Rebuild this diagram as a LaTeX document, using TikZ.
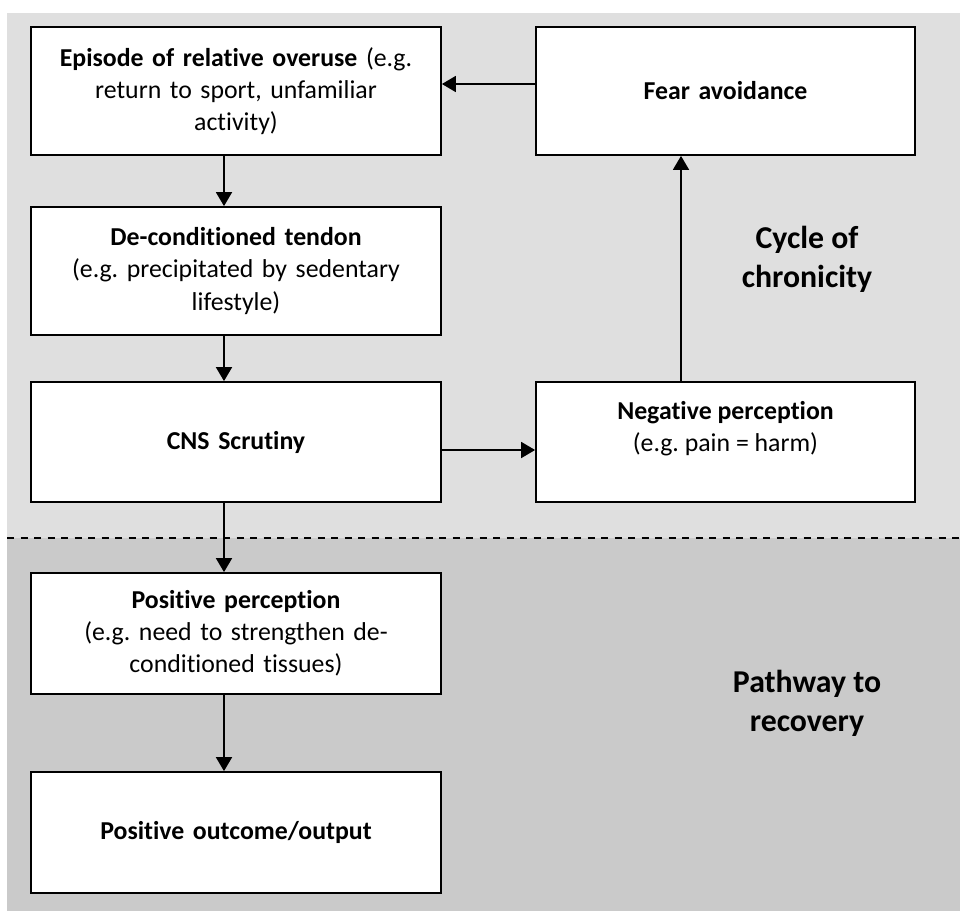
\documentclass[tikz,border=0pt]{standalone}
\usepackage{fontspec}
\setmainfont{Carlito}[Ligatures=NoCommon]
\usetikzlibrary{arrows.meta,calc}
\definecolor{lightbg}{RGB}{223,223,223}
\definecolor{darkbg}{RGB}{202,202,202}
\frenchspacing
\begin{document}
\begin{tikzpicture}[x=1pt,y=-1pt]
\tikzset{
  bx/.style={draw=black, line width=1.8pt, fill=white, inner sep=0pt, align=center,
             font=\fontsize{25.8}{32.2}\selectfont},
  btxt/.style={inner sep=0pt, align=center, font=\fontsize{25.8}{32.2}\selectfont},
  arr/.style={line width=1.8pt, -{Triangle[width=16pt,length=14pt]}},
  lbl/.style={inner sep=0pt, align=center, font=\bfseries\fontsize{31.8}{38.7}\selectfont}
}
\useasboundingbox (0,0) rectangle (960,911);
\fill[lightbg] (7,13) rectangle (960,538);
\fill[darkbg] (7,538) rectangle (960,911);
\draw[line width=1.4pt, dash pattern=on 7pt off 6.5pt] (7,538) -- (960,538);

\node[bx, minimum width=410pt, minimum height=128pt, text width=404pt] (ep) at (236,91)
  {\textbf{Episode of relative overuse} (e.g.\\ return to sport, unfamiliar\\ activity)};
\node[bx, minimum width=410pt, minimum height=128pt, text width=404pt] (de) at (236,271)
  {\textbf{De-conditioned tendon}\\ (e.g. precipitated by sedentary\\ lifestyle)};
\node[bx, minimum width=410pt, minimum height=120pt, text width=404pt] (cns) at (236,442)
  {\textbf{CNS Scrutiny}};
\node[bx, minimum width=410pt, minimum height=121pt, text width=404pt] (pos) at (236,633.5)
  {\textbf{Positive perception}\\ (e.g. need to strengthen de-\\ conditioned tissues)};
\node[bx, minimum width=410pt, minimum height=121pt, text width=404pt] (out) at (236,832.5)
  {\textbf{Positive outcome/output}};
\node[bx, minimum width=379pt, minimum height=128pt, text width=373pt] (fear) at (725.5,91)
  {\textbf{Fear avoidance}};
\node[bx, minimum width=379pt, minimum height=120pt, text width=373pt] (neg) at (725.5,442) {};
\node[btxt] (negtxt) at (725.5,428.5) {\textbf{Negative perception}\\ (e.g. pain = harm)};

\node[lbl] (cyc) at (807,259.5) {Cycle of\\ chronicity};
\node[lbl] (path) at (807,703.5) {Pathway to\\ recovery};

\draw[arr] ([xshift=-12pt]ep.south) -- ([xshift=-12pt]de.north);
\draw[arr] ([xshift=-12pt]de.south) -- ([xshift=-12pt]cns.north);
\draw[arr] ([xshift=-12pt]cns.south) -- ([xshift=-12pt]pos.north);
\draw[arr] ([xshift=-12pt]pos.south) -- ([xshift=-12pt]out.north);
\draw[arr] ([yshift=-8pt]cns.east) -- ([yshift=-8pt]neg.west);
\draw[arr] ([xshift=-44.5pt]neg.north) -- ([xshift=-44.5pt]fear.south);
\draw[arr] ([yshift=7pt]fear.west) -- ([yshift=7pt]ep.east);
\end{tikzpicture}
\end{document}
